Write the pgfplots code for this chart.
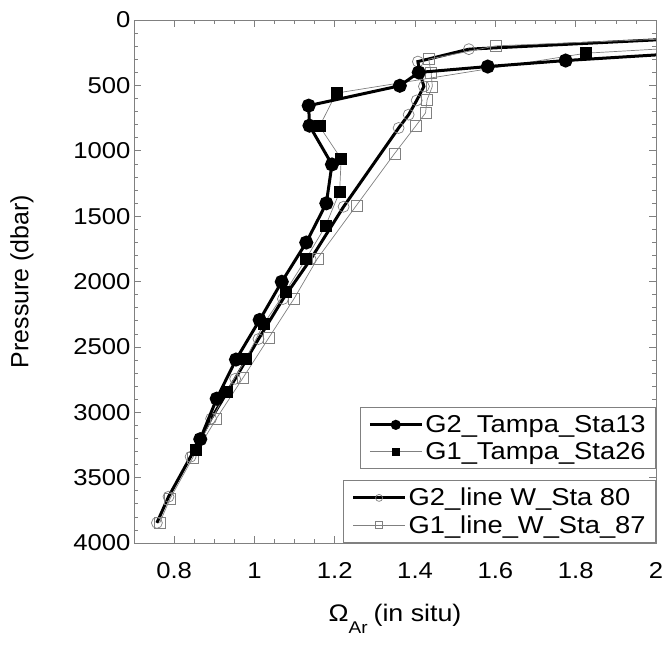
\documentclass[border=0pt]{standalone}
\usepackage{fontspec}
\setmainfont{Liberation Sans}
\usepackage{graphicx}
\usepackage{pgfplots}
\pgfplotsset{compat=1.18}
\newcommand{\widen}[1]{\scalebox{1.12}[1]{#1}}
\pgfplotsset{
  base/.style={
    at={(0,0)}, anchor=south west, scale only axis,
    width=522bp, height=523bp,
    xmin=0.7, xmax=2, ymin=0, ymax=4000, y dir=reverse,
    axis line style={gray, line width=0.8bp},
    tick style={gray, line width=0.6bp},
    major tick length=7bp, minor tick length=4bp,
    xtick={0.8,1,1.2,1.4,1.6,1.8,2}, minor x tick num=3,
    ytick={0,500,1000,1500,2000,2500,3000,3500,4000}, minor y tick num=4,
    tick align=inside,
    /pgf/number format/assume math mode=true,
    /pgf/number format/1000 sep={},
    xticklabel={\widen{\pgfmathprintnumber{\tick}}},
    yticklabel={\widen{\pgfmathprintnumber{\tick}}},
    ticklabel style={font=\fontsize{23}{27}\selectfont, text=black},
    xticklabel style={yshift=-16bp},
    legend style={draw=gray, line width=0.7bp, fill=white,
      font=\fontsize{24.5}{28}\selectfont, anchor=south east,
      inner xsep=8bp, inner ysep=6bp, row sep=4bp,
      nodes={inner sep=2bp}},
    legend cell align=left,
    legend image code/.code={
      \draw[mark repeat=2, mark phase=2, ##1, mark size=3.5bp]
        plot coordinates {(0bp,0bp) (26bp,0bp) (52bp,0bp)};},
  }
}
\begin{document}
\begin{tikzpicture}
\useasboundingbox (-134bp,-104bp) rectangle (533bp,543bp);
% axis B: line W stations, frame, labels
\begin{axis}[base,
  legend style={at={(1,0)}},
  ylabel={Pressure (dbar)},
  xlabel={\widen{Ω}\raisebox{-1.0ex}{\fontsize{17}{20}\selectfont\widen{Ar}}\hspace{6bp}\widen{(in situ)}},
  every axis y label/.style={at={(axis description cs:-0.2146,0.5)}, rotate=90, anchor=center, font=\fontsize{25}{29}\selectfont},
  every axis x label/.style={at={(axis description cs:0.5,0)}, anchor=base, yshift=-78bp, font=\fontsize{24}{28}\selectfont},
]
\addplot[black, line width=3bp, forget plot] coordinates {(2.3,106) (1.534,223)};
\addplot[black, line width=3bp, mark=o, mark size=5.5bp,
  mark options={draw=gray, line width=0.7bp}] coordinates {
(1.534,223) (1.407,318) (1.412,405) (1.422,508) (1.404,615) (1.384,724)
(1.359,826) (1.222,1428) (1.14,1830) (1.071,2134) (1.01,2440) (0.952,2744)
(0.892,3049) (0.841,3340) (0.786,3646) (0.757,3846)};
\addlegendentry{\widen{G2\_line W\_Sta 80}\hspace{7bp}}
\addplot[gray, line width=0.7bp, forget plot] coordinates {(2.3,110) (1.601,198)};
\addplot[gray, line width=0.7bp, mark=square, mark size=5.5bp,
  mark options={draw=gray, line width=0.7bp}] coordinates {
(1.601,198) (1.434,300) (1.440,405) (1.443,508) (1.430,610) (1.426,711)
(1.401,813) (1.349,1021) (1.254,1418) (1.157,1824) (1.099,2129) (1.035,2434)
(0.971,2739) (0.905,3049) (0.846,3350) (0.790,3660) (0.764,3846)};
\addlegendentry{\widen{G1\_line\_W\_Sta\_87}\hspace{7bp}}
\end{axis}
% axis A: Tampa stations
\begin{axis}[base, hide axis, reverse legend,
  legend style={at={(1,0.1415)}}]
\addplot[gray, line width=0.7bp, forget plot] coordinates {(2.3,170) (1.825,254)};
\addplot[gray, line width=0.7bp, mark=square*, mark size=5.5bp,
  mark options={draw=black, fill=black}] coordinates {
(1.825,254) (1.204,559) (1.162,813) (1.216,1062) (1.212,1316) (1.177,1575)
(1.129,1824) (1.077,2078) (1.023,2325) (0.979,2591) (0.930,2845) (0.853,3290)};
\addlegendentry{\widen{G1\_Tampa\_Sta26}\hspace{7bp}}
\addplot[black, line width=3bp, forget plot] coordinates {(2.3,210) (1.775,310)};
\addplot[black, line width=3bp, mark=*, mark size=5.5bp,
  mark options={draw=black, fill=black}] coordinates {
(1.775,310) (1.581,356) (1.409,401) (1.362,503) (1.135,655) (1.137,808)
(1.193,1105) (1.179,1402) (1.129,1702) (1.068,2002) (1.013,2294) (0.954,2597)
(0.906,2896) (0.865,3206)};
\addlegendentry{\widen{G2\_Tampa\_Sta13}\hspace{7bp}}
\end{axis}
\end{tikzpicture}
\end{document}
